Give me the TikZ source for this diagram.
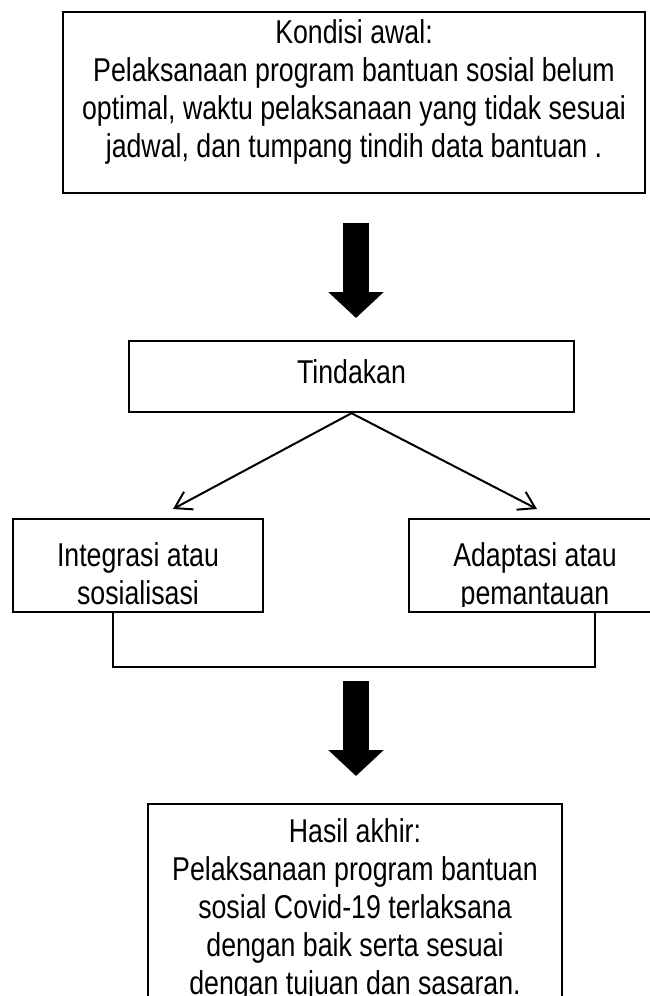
\documentclass[tikz,border=0pt]{standalone}
\usepackage{fontspec}
\setmainfont{Liberation Sans}[FakeStretch=0.81]
\usetikzlibrary{arrows.meta,positioning}

\begin{document}
\begin{tikzpicture}[x=0.5pt,y=-0.5pt,
  box/.style={draw,line width=1.2pt,rectangle,inner sep=0pt},
  txt/.style={align=center,inner sep=0pt,anchor=north,font=\fontsize{16.5pt}{19pt}\selectfont},
  thinarrow/.style={line width=1pt,-{Straight Barb[length=8pt,width=10pt]}},
  bigarrow/.style={line width=13pt,-{Triangle[length=13pt,width=27pt]}},
  joint/.style={line width=1pt}]
\useasboundingbox (0,0) rectangle (649,996);

% Kondisi awal
\node[box,minimum width=291pt,minimum height=90.5pt] (awal) at (354,102.5) {};
\node[txt] (awaltxt) at (354,19) {Kondisi awal:\\Pelaksanaan program bantuan sosial belum\\optimal, waktu pelaksanaan yang tidak sesuai\\jadwal, dan tumpang tindih data bantuan .};

\coordinate (a1s) at (356,223);
\coordinate (a1e) at (356,318);
\draw[bigarrow] (a1s) -- (a1e);

% Tindakan
\node[box,minimum width=222.5pt,minimum height=35.5pt] (tindakan) at (351.5,376.5) {};
\node[txt] (tindakantxt) at (351.5,359) {Tindakan};

\coordinate (tipl) at (173,509);
\coordinate (tipr) at (537,509);
\draw[thinarrow] (tindakan.south) -- (tipl);
\draw[thinarrow] (tindakan.south) -- (tipr);

% two branches
\node[box,minimum width=125pt,minimum height=46.5pt] (integrasi) at (138,565.5) {};
\node[box,minimum width=126pt,minimum height=46.5pt] (adaptasi) at (535,565.5) {};
\begin{scope}
  \clip (0,519) rectangle (649,606);
  \node[txt] (integrasitxt) at (138,542) {Integrasi atau\\sosialisasi};
  \node[txt] (adaptasitxt) at (535,542) {Adaptasi atau\\pemantauan};
\end{scope}

\coordinate (jl) at (113,667);
\coordinate (jr) at (595,667);
\draw[joint] (integrasi.south -| jl) -- (jl) -- (jr) -- (adaptasi.south -| jr);

\coordinate (a2s) at (356,681);
\coordinate (a2e) at (356,776);
\draw[bigarrow] (a2s) -- (a2e);

% Hasil akhir
\node[box,minimum width=207pt,minimum height=103pt] (akhir) at (355,907) {};
\node[txt] (akhirtxt) at (355,818) {Hasil akhir:\\Pelaksanaan program bantuan\\sosial Covid-19 terlaksana\\dengan baik serta sesuai\\dengan tujuan dan sasaran.};
\end{tikzpicture}
\end{document}
